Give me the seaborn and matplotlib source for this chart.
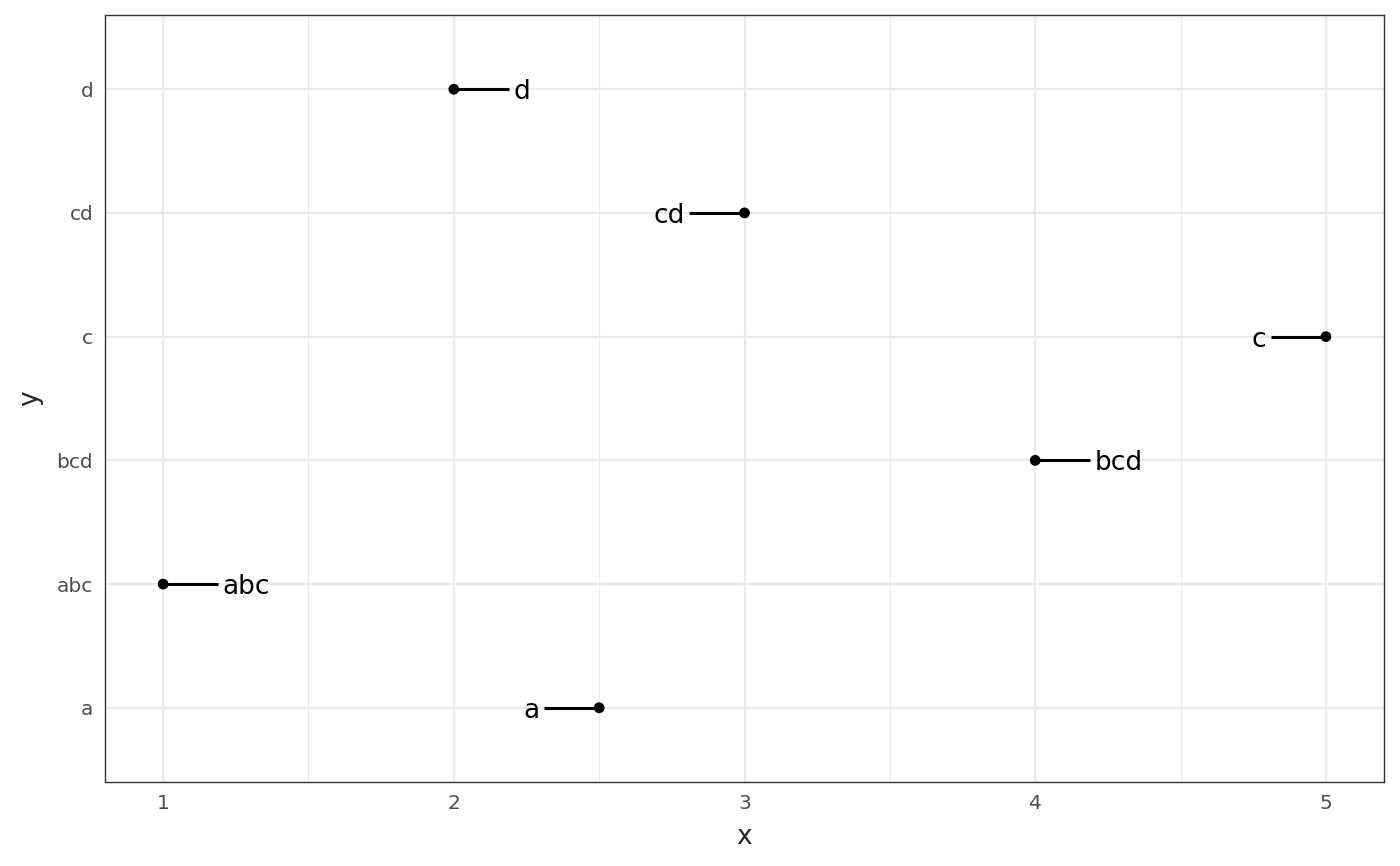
import matplotlib
matplotlib.use("Agg")
import matplotlib.pyplot as plt
import seaborn as sns
import pandas as pd

# Datos
labels = ["a", "abc", "bcd", "c", "cd", "d"]
x_vals = [2.5, 1, 4, 5, 3, 2]
nudge = [-0.2, 0.2, 0.2, -0.2, -0.2, 0.2]

df = pd.DataFrame({"x": x_vals, "y": labels, "nudge": nudge})
df["ypos"] = df["y"].map({lab: i for i, lab in enumerate(labels)})

sns.set_style("white")
plt.rcParams["font.family"] = ["DejaVu Sans"]

fig = plt.figure(figsize=(14, 8.66), dpi=100)
ax = fig.add_axes([0.075, 0.097, 0.9136, 0.8857])

# Segmentos y etiquetas
for _, r in df.iterrows():
    end = r["x"] + r["nudge"] * 0.95
    ax.plot([r["x"], end], [r["ypos"], r["ypos"]], color="black", lw=2.2, zorder=3,
            solid_capstyle="butt")
    ax.text(r["x"] + r["nudge"] * 1.02, r["ypos"], r["y"], fontsize=19,
            ha="left" if r["nudge"] > 0 else "right", va="center_baseline",
            color="black", zorder=4)

sns.scatterplot(data=df, x="x", y="ypos", color="black", s=60, edgecolor="none",
                zorder=5, ax=ax)

ax.set_xlim(0.8, 5.2)
ax.set_ylim(-0.6, 5.6)
ax.set_xticks([1, 2, 3, 4, 5])
ax.set_xticks([1.5, 2.5, 3.5, 4.5], minor=True)
ax.set_yticks(range(len(labels)))
ax.set_yticklabels(labels)

ax.grid(which="major", color="#EBEBEB", lw=1.6, zorder=0)
ax.grid(which="minor", axis="x", color="#EBEBEB", lw=0.8, zorder=0)
ax.set_axisbelow(True)
for s in ax.spines.values():
    s.set_color("#333333")
    s.set_linewidth(1.0)

ax.tick_params(which="major", length=5.5, width=1.5, color="#333333",
               labelcolor="#4D4D4D", labelsize=14.5, pad=3)
ax.tick_params(which="minor", length=0)
ax.set_xlabel("x", fontsize=19, labelpad=8)
ax.set_ylabel("y", fontsize=19, labelpad=10)

fig.savefig("out.png", dpi=100)
